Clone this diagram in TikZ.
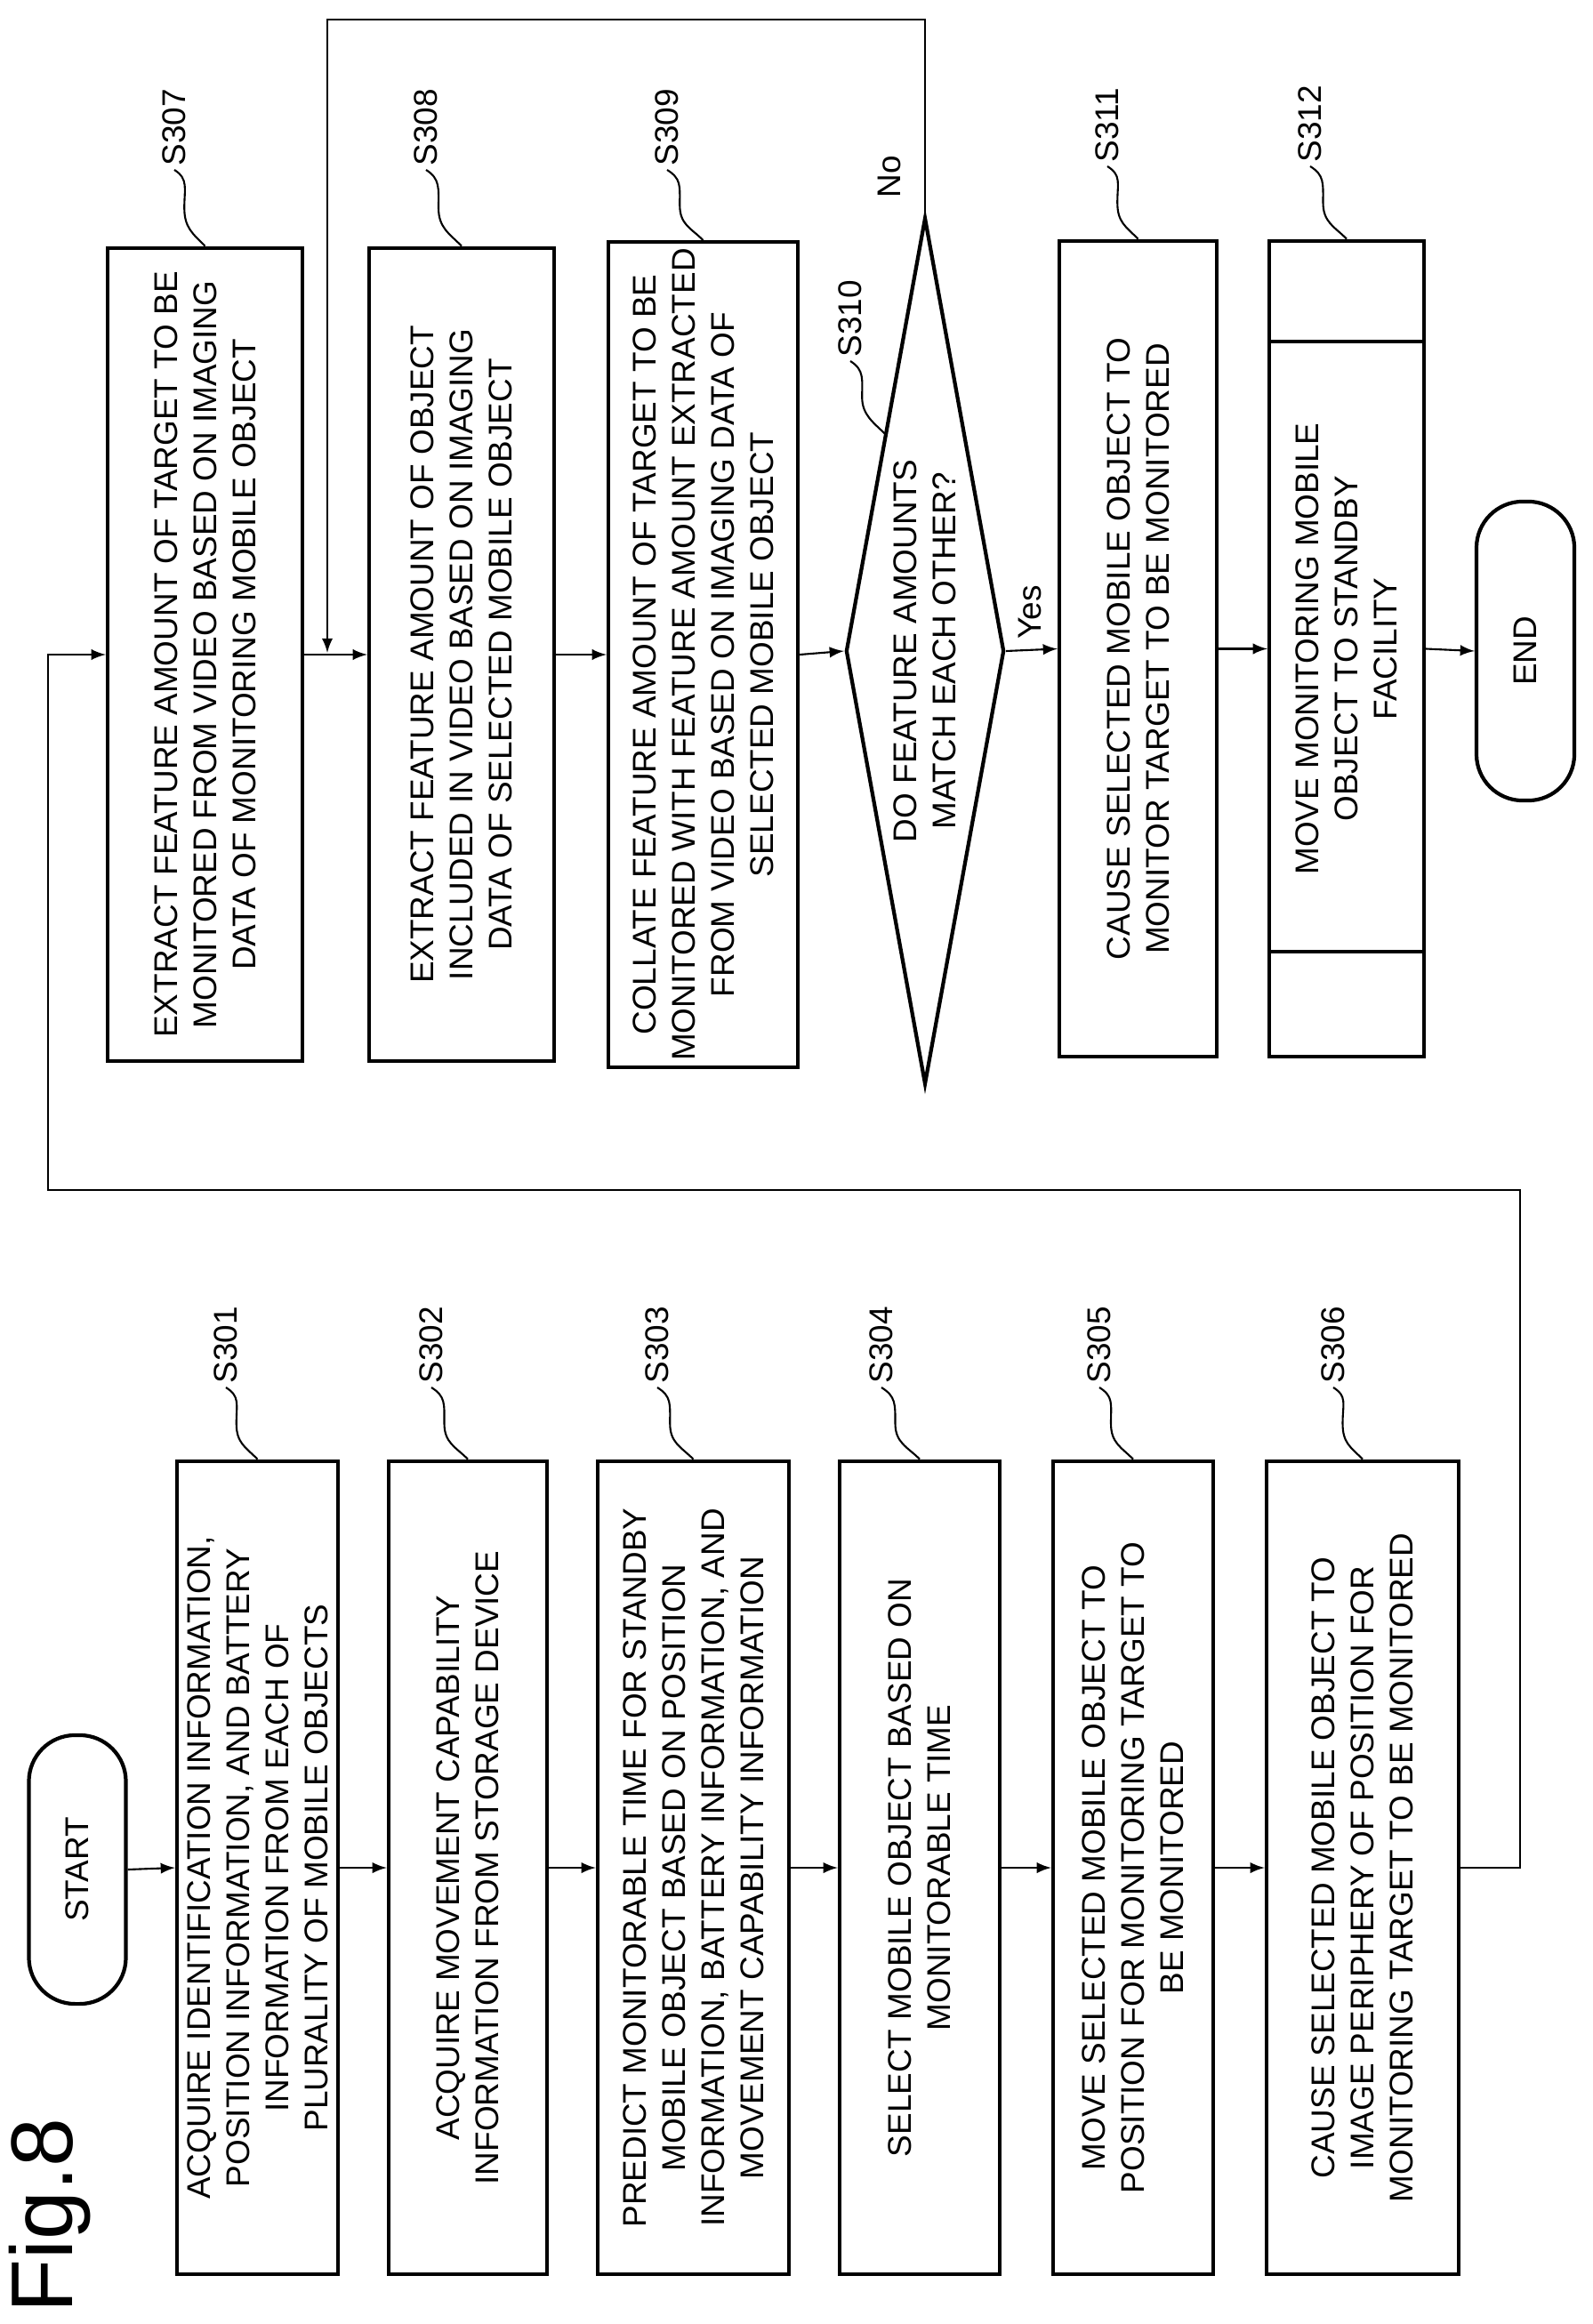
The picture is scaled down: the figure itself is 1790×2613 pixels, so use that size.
\documentclass[tikz,border=0pt]{standalone}
\usepackage{fontspec}
\setmainfont{Liberation Sans}
\usepackage{tikz}
\usetikzlibrary{calc,shapes.geometric,arrows}

\begin{document}
\begin{tikzpicture}[x=0.01cm,y=-0.01cm,
      box/.style={
            rectangle, draw, line width=1.2pt, rotate=90,
            minimum width=9.14cm, align=center, inner sep=2pt,
            font=\fontsize{10.5}{12.5}\selectfont
        },
      term/.style={
            rectangle, draw, line width=1.2pt, rotate=90,
            rounded corners=0.52cm, font=\fontsize{10.5}{12.5}\selectfont
        },
      dec/.style={
            diamond, draw, line width=1.2pt, rotate=90,
            minimum width=9.74cm, minimum height=1.78cm, inner sep=0pt
        },
      lbl/.style={rotate=90, anchor=west, inner sep=1pt,
            font=\fontsize{10.5}{12.5}\selectfont},
      lead/.style={line width=0.6pt},
      ->, >=latex, line width=0.6pt
      ]
    \useasboundingbox (0,0) rectangle (1790,2613);

    \node[rotate=90, font=\fontsize{28}{30}\selectfont] (fig) at (56,2491) {Fig.8};

    % first half
    \node[term, minimum width=3.02cm, minimum height=1.09cm] (start) at (87,2102) {START};
    \node[box, minimum height=1.81cm] (s301) at (289.5,2100) {ACQUIRE IDENTIFICATION INFORMATION,\\POSITION INFORMATION, AND BATTERY\\INFORMATION FROM EACH OF\\PLURALITY OF MOBILE OBJECTS};
    \node[box, minimum height=1.78cm] (s302) at (526,2100) {ACQUIRE MOVEMENT CAPABILITY\\INFORMATION FROM STORAGE DEVICE};
    \node[box, minimum height=2.15cm] (s303) at (779.5,2100) {PREDICT MONITORABLE TIME FOR STANDBY\\MOBILE OBJECT BASED ON POSITION\\INFORMATION, BATTERY INFORMATION, AND\\MOVEMENT CAPABILITY INFORMATION};
    \node[box, minimum height=1.80cm] (s304) at (1034,2100) {SELECT MOBILE OBJECT BASED ON\\MONITORABLE TIME};
    \node[box, minimum height=1.80cm] (s305) at (1274,2100) {MOVE SELECTED MOBILE OBJECT TO\\POSITION FOR MONITORING TARGET TO\\BE MONITORED};
    \node[box, minimum height=2.16cm] (s306) at (1532,2100) {CAUSE SELECTED MOBILE OBJECT TO\\IMAGE PERIPHERY OF POSITION FOR\\MONITORING TARGET TO BE MONITORED};

    % second half
    \node[box, minimum height=2.19cm] (s307) at (230.5,736) {EXTRACT FEATURE AMOUNT OF TARGET TO BE\\MONITORED FROM VIDEO BASED ON IMAGING\\DATA OF MONITORING MOBILE OBJECT};
    \node[box, minimum height=2.08cm] (s308) at (519,736) {EXTRACT FEATURE AMOUNT OF OBJECT\\INCLUDED IN VIDEO BASED ON IMAGING\\DATA OF SELECTED MOBILE OBJECT};
    \node[box, minimum height=2.13cm] (s309) at (790.5,736) {COLLATE FEATURE AMOUNT OF TARGET TO BE\\MONITORED WITH FEATURE AMOUNT EXTRACTED\\FROM VIDEO BASED ON IMAGING DATA OF\\SELECTED MOBILE OBJECT};
    \node[dec] (s310) at (1040,732) {};
    \node[rotate=90, align=center, font=\fontsize{10.5}{12.5}\selectfont] (q310) at (s310) {DO FEATURE AMOUNTS\\MATCH EACH OTHER?};
    \node[box, minimum width=9.17cm, minimum height=1.77cm] (s311) at (1279.5,729.5) {CAUSE SELECTED MOBILE OBJECT TO\\MONITOR TARGET TO BE MONITORED};
    \node[box, minimum width=9.17cm, minimum height=1.74cm] (s312) at (1514,729.5) {MOVE MONITORING MOBILE\\OBJECT TO STANDBY\\FACILITY};
    \draw[-, line width=1.2pt] (1427,384) -- (1601,384) (1427,1070) -- (1601,1070);
    \node[term, minimum width=3.36cm, minimum height=1.10cm] (end) at (1715,732) {END};

    % step labels
    \foreach \n/\x/\y in {301/254/1560,302/485/1560,303/739/1560,304/991/1560,
        305/1236/1560,306/1499/1560,307/196/191,308/479/191,309/750/191,
        311/1245/187,312/1473/187}{
      \node[lbl] (l\n) at (\x,\y) {S\n};
      \draw[-, lead] (l\n.west) .. controls +(16,10) and +(0,-22) .. ($(l\n.west)!.5!(s\n.east)+(-6,0)$)
          .. controls +(0,22) and +(-14,-14) .. (s\n.east);
    }
    \node[lbl] (l310) at (956,406) {S310};
    \coordinate (e310) at ($(s310.east)!.5!(s310.north)$);
    \draw[-, lead] (l310.west) .. controls +(16,10) and +(0,-20) .. ($(l310.west)!.5!(e310)+(-6,0)$)
        .. controls +(0,20) and +(-12,-12) .. (e310);

    % flow
    \draw (start.south) -- (s301.north);
    \draw (s301.south) -- (s302.north);
    \draw (s302.south) -- (s303.north);
    \draw (s303.south) -- (s304.north);
    \draw (s304.south) -- (s305.north);
    \draw (s305.south) -- (s306.north);
    \coordinate (loopR) at (1709,1338);
    \coordinate (loopL) at (54,1338);
    \draw (s306.south) -| (loopR) -- (loopL) |- (s307.north);

    \draw (s307.south) -- (s308.north);
    \draw (s308.south) -- (s309.north);
    \draw (s309.south) -- (s310.north);
    \draw (s310.south) -- node[rotate=90, anchor=west, pos=0.35, yshift=-2pt, font=\fontsize{10.5}{12.5}\selectfont] (yes) {Yes} (s311.north);
    \draw (s311.south) -- (s312.north);
    \draw (s312.south) -- (end.north);

    \coordinate (ntop) at (368,22);
    \coordinate (njoin) at (368,734);
    \draw (s310.east) |- (ntop) -- (njoin);
    \node[rotate=90, font=\fontsize{10.5}{12.5}\selectfont] (no) at (1000,199) {No};
\end{tikzpicture}
\end{document}
